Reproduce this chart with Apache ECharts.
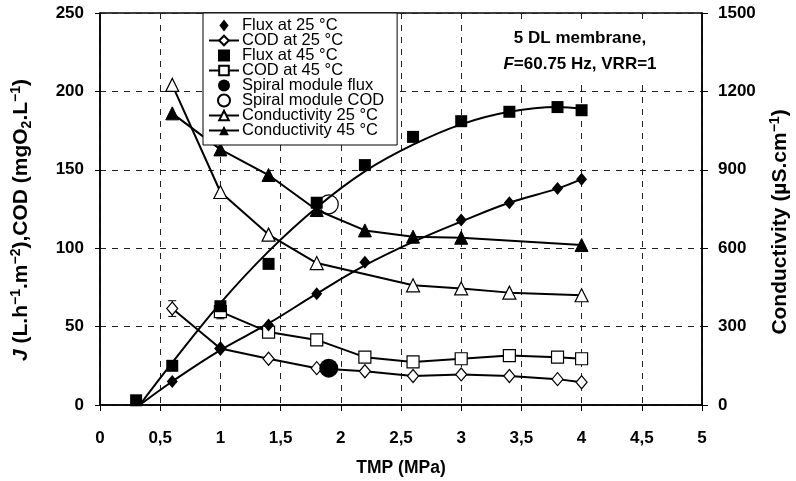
<!DOCTYPE html>
<html>
<head>
<meta charset="utf-8">
<script src="https://cdn.jsdelivr.net/npm/echarts@6/dist/echarts.min.js"></script>
<style>
  html, body { margin: 0; padding: 0; background: #fff; }
  #chart { width: 796px; height: 481px; }
</style>
</head>
<body>
<div id="chart"></div>
<script>
// TMP values (MPa) and measured series
const tmpFlux25 = [0.6, 1, 1.4, 1.8, 2.2, 3, 3.4, 3.8, 4];
const flux25 = [15, 36, 51, 71, 91, 118, 129, 138, 144];
const tmpFlux45 = [0.3, 0.6, 1, 1.4, 1.8, 2.2, 2.6, 3, 3.4, 3.8, 4];
const flux45 = [3, 25, 63, 90, 129, 153, 171, 181, 187, 190, 188];

const tmpCod25 = [0.6, 1, 1.4, 1.8, 2.2, 2.6, 3, 3.4, 3.8, 4];
const cod25 = [61.5, 36, 29.5, 23.5, 21.5, 18.5, 19.5, 18.5, 16.5, 14.5];
const tmpCod45 = [1, 1.4, 1.8, 2.2, 2.6, 3, 3.4, 3.8, 4];
const cod45 = [59.5, 46.5, 41.5, 30.5, 27.5, 29.5, 31.5, 30.5, 29.5];

const tmpCond25 = [0.6, 1, 1.4, 1.8, 2.6, 3, 3.4, 4];
const cond25 = [1225, 815, 652, 543, 458, 446, 430, 420];
const tmpCond45 = [0.6, 1, 1.4, 1.8, 2.2, 2.6, 3, 4];
const cond45 = [1116, 978, 880, 746, 668, 644, 640, 612];

// trend curves drawn through the flux points
const tmpFit = [0.33, 0.6, 1, 1.4, 1.8, 2.2, 2.6, 3, 3.4, 3.8, 4];
const fit25 = [0, 15, 35, 52, 71, 89, 104, 117, 129, 138, 144];
const fit45 = [0, 27, 65, 98, 126, 149, 166, 179, 187, 190, 189];

const spiralTmp = 1.9;
const spiralFlux = 23.5;
const spiralCod = 128;

// error bars: [TMP, low, high]
const errBars = [[0.6, 56.5, 66.5], [1, 55, 63]];

const xTicks = [0, 0.5, 1, 1.5, 2, 2.5, 3, 3.5, 4, 4.5, 5];

const zip = (xs, ys) => xs.map((x, i) => [x, ys[i]]);

const FONT = 'Liberation Sans, Arial, sans-serif';
const ICON_DIAMOND = 'path://M5,0L10,6.5L5,13L0,6.5Z';
const ICON_SQUARE = 'path://M0,0L10,0L10,10L0,10Z';

let chart = echarts.init(document.getElementById('chart'));

let lineBase = {
  type: 'line',
  lineStyle: { color: '#000', width: 2 },
  itemStyle: { color: '#fff', borderColor: '#000', borderWidth: 1.2, opacity: 1 },
  z: 3
};

const bold = (size) => ({ fontFamily: FONT, fontSize: size, fontWeight: 'bold', color: '#000' });

let option = {
  animation: false,
  backgroundColor: '#fff',
  textStyle: { fontFamily: FONT },
  title: {
    text: '5 DL membrane,\n{i|F}=60.75 Hz, VRR=1',
    left: 576,
    top: 23,
    padding: [2, 4],
    backgroundColor: '#fff',
    textAlign: 'center',
    textStyle: Object.assign(bold(17), {
      lineHeight: 26, align: 'center',
      rich: { i: Object.assign(bold(17), { fontStyle: 'italic', lineHeight: 26 }) }
    })
  },
  legend: {
    data: [
      { name: 'Flux at 25 °C', icon: ICON_DIAMOND },
      'COD at 25 °C',
      { name: 'Flux at 45 °C', icon: ICON_SQUARE },
      'COD at 45 °C',
      'Spiral module flux',
      'Spiral module COD',
      'Conductivity 25 °C',
      'Conductivity 45 °C'
    ],
    orient: 'vertical',
    left: 203,
    top: 13,
    padding: [4, 13, 6, 5],
    itemGap: -2,
    itemWidth: 30,
    itemHeight: 12,
    backgroundColor: '#fff',
    borderColor: '#000',
    borderWidth: 1,
    textStyle: { fontFamily: FONT, fontSize: 16.5, color: '#000', padding: [0, 0, 0, -2], lineHeight: 15.5 }
  },
  grid: {
    left: 100, right: 94, top: 13, bottom: 76,
    outerBoundsMode: 'none',
    containLabel: false,
    show: true, borderColor: '#000', borderWidth: 1.5
  },
  xAxis: {
    type: 'value',
    min: 0, max: 5, interval: 0.5,
    name: 'TMP (MPa)',
    nameLocation: 'middle',
    nameGap: 54,
    nameTextStyle: bold(17.5),
    axisLine: { lineStyle: { color: '#000', width: 1.5 } },
    axisTick: { show: true, length: 6, lineStyle: { color: '#000' } },
    axisLabel: Object.assign(bold(17), {
      margin: 25,
      formatter: v => xTicks.includes(v) ? String(v).replace('.', ',') : ''
    }),
    splitLine: { show: true, lineStyle: { color: '#222', type: [6, 6], width: 1 } }
  },
  yAxis: [
    {
      type: 'value',
      min: 0, max: 250, interval: 50,
      name: '{i|J} (L.h{sup|−1}.m{sup|−2}),COD (mgO{sub|2}.L{sup|−1})',
      nameLocation: 'middle',
      nameGap: 66,
      nameRotate: 90,
      nameTextStyle: Object.assign(bold(21), {
        lineHeight: 25,
        padding: [0, 22, 0, 0],
        rich: {
          i: Object.assign(bold(21), { fontStyle: 'italic', lineHeight: 25 }),
          sup: Object.assign(bold(14), { verticalAlign: 'top', lineHeight: 14 }),
          sub: Object.assign(bold(14), { verticalAlign: 'bottom', lineHeight: 14 })
        }
      }),
      axisLine: { show: true, lineStyle: { color: '#000', width: 1.5 } },
      axisTick: { show: true, length: 5, lineStyle: { color: '#000' } },
      axisLabel: Object.assign(bold(17), { margin: 16 }),
      splitLine: { show: true, lineStyle: { color: '#222', type: [6, 6], width: 1 } }
    },
    {
      type: 'value',
      position: 'right',
      min: 0, max: 1500, interval: 300,
      name: 'Conductivity (µS.cm{sup|−1})',
      nameLocation: 'middle',
      nameGap: 66,
      nameRotate: 90,
      nameTextStyle: Object.assign(bold(21), {
        lineHeight: 25,
        padding: [0, 26, 0, 0],
        rich: { sup: Object.assign(bold(14), { verticalAlign: 'top', lineHeight: 14 }) }
      }),
      axisLine: { show: true, lineStyle: { color: '#000', width: 1.5 } },
      axisTick: { show: true, length: 6, lineStyle: { color: '#000' } },
      axisLabel: Object.assign(bold(17), { margin: 16, formatter: v => String(v) }),
      splitLine: { show: false }
    }
  ],
  series: [
    // trend curves for flux
    {
      type: 'line', name: 'fit25', data: zip(tmpFit, fit25), smooth: 0.4,
      showSymbol: false, lineStyle: { color: '#000', width: 2 }, z: 2, silent: true
    },
    {
      type: 'line', name: 'fit45', data: zip(tmpFit, fit45), smooth: 0.4,
      showSymbol: false, lineStyle: { color: '#000', width: 2 }, z: 2, silent: true
    },
    Object.assign({}, lineBase, {
      name: 'Conductivity 25 °C', yAxisIndex: 1, data: zip(tmpCond25, cond25),
      symbol: 'triangle', symbolSize: 13
    }),
    Object.assign({}, lineBase, {
      name: 'Conductivity 45 °C', yAxisIndex: 1, data: zip(tmpCond45, cond45),
      symbol: 'triangle', symbolSize: 13, itemStyle: { color: '#000', borderColor: '#000', opacity: 1 }
    }),
    Object.assign({}, lineBase, {
      name: 'COD at 45 °C', data: zip(tmpCod45, cod45),
      symbol: 'rect', symbolSize: 12
    }),
    Object.assign({}, lineBase, {
      name: 'COD at 25 °C', data: zip(tmpCod25, cod25),
      symbol: 'diamond', symbolSize: [11, 13]
    }),
    {
      type: 'custom', name: 'errors', silent: true, z: 2,
      data: errBars,
      renderItem: function (params, api) {
        let x = api.value(0);
        let lo = api.coord([x, api.value(1)]);
        let hi = api.coord([x, api.value(2)]);
        let w = 4;
        let st = { stroke: '#000', lineWidth: 1 };
        return {
          type: 'group',
          children: [
            { type: 'line', shape: { x1: lo[0], y1: lo[1], x2: hi[0], y2: hi[1] }, style: st },
            { type: 'line', shape: { x1: lo[0] - w, y1: lo[1], x2: lo[0] + w, y2: lo[1] }, style: st },
            { type: 'line', shape: { x1: hi[0] - w, y1: hi[1], x2: hi[0] + w, y2: hi[1] }, style: st }
          ]
        };
      }
    },
    {
      type: 'scatter', name: 'Flux at 25 °C', data: zip(tmpFlux25, flux25),
      symbol: 'diamond', symbolSize: [11, 13], itemStyle: { color: '#000', opacity: 1 }, z: 4
    },
    {
      type: 'scatter', name: 'Flux at 45 °C', data: zip(tmpFlux45, flux45),
      symbol: 'rect', symbolSize: 12, itemStyle: { color: '#000', opacity: 1 }, z: 4
    },
    {
      type: 'scatter', name: 'Spiral module flux', data: [[spiralTmp, spiralFlux]],
      symbol: 'circle', symbolSize: 19, itemStyle: { color: '#000', opacity: 1 }, z: 5
    },
    {
      type: 'scatter', name: 'Spiral module COD', data: [[spiralTmp, spiralCod]],
      symbol: 'circle', symbolSize: 19,
      itemStyle: { color: 'rgba(255,255,255,0)', borderColor: '#000', borderWidth: 1.2, opacity: 1 }, z: 5
    }
  ]
};

chart.setOption(option);
</script>
</body>
</html>
